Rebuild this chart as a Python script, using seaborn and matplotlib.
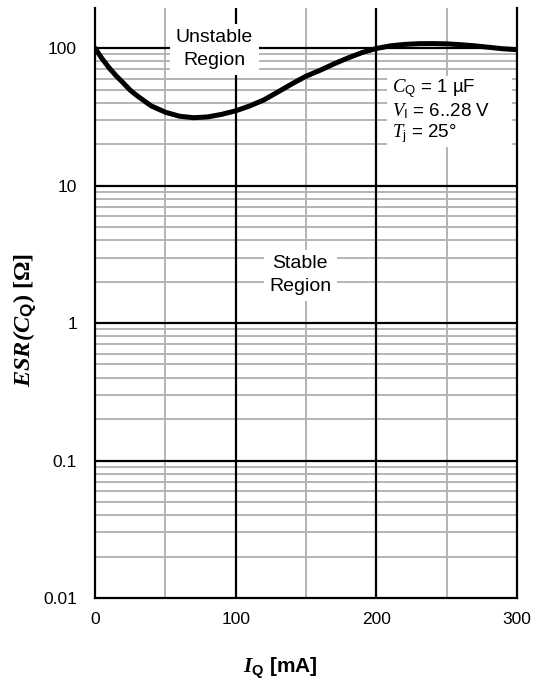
import matplotlib
matplotlib.use("Agg")
import matplotlib.pyplot as plt
import seaborn as sns
import numpy as np
import pandas as pd
from matplotlib.ticker import FixedLocator, NullFormatter
from matplotlib.patches import Rectangle

# ---- data ----
current_ma = [0, 5, 10, 15, 20, 25, 30, 40, 50, 60, 70, 80, 90, 100, 110, 120, 130,
              140, 150, 160, 170, 180, 190, 200, 210, 220, 230, 240, 250, 260,
              270, 280, 290, 300]
esr_ohm = [100, 84, 72, 63, 56, 49.5, 45, 38, 34.2, 32, 31.2, 31.6, 33, 35, 38, 42, 48,
           55, 62.5, 69, 77, 85, 93, 99.5, 104, 106.5, 107.8, 108, 107.5, 106,
           104, 101.5, 99, 97.5]
x_ticks = [0, 100, 200, 300]
x_minor = [50, 150, 250]
y_ticks = [0.01, 0.1, 1, 10, 100]
y_tick_labels = ["0.01", "0.1", "1", "10", "100"]

sns.set_style("white")
plt.rcParams['font.family'] = ['Liberation Sans', 'DejaVu Sans']
for k in ['text.color', 'axes.labelcolor', 'xtick.color', 'ytick.color']:
    plt.rcParams[k] = 'black'
plt.rcParams['mathtext.fontset'] = 'custom'
plt.rcParams['mathtext.rm'] = 'Liberation Sans'
plt.rcParams['mathtext.it'] = 'Liberation Serif:italic'
plt.rcParams['mathtext.bf'] = 'Liberation Serif:bold'
plt.rcParams['mathtext.bfit'] = 'Liberation Serif:bold:italic'
plt.rcParams['mathtext.sf'] = 'Liberation Sans:bold'

fig = plt.figure(figsize=(5.42, 6.82), dpi=100)
ax = fig.add_axes([95/542, 1-598/682, (517-95)/542, (598-8)/682])

df = pd.DataFrame({"I": current_ma, "ESR": esr_ohm})

ax.set_yscale("log")
ax.set_xlim(0, 300)
ax.set_ylim(0.01, 196)

# grid
minor_y = []
for d in [0.01, 0.1, 1, 10, 100]:
    for m in range(2, 10):
        v = d * m
        if v < 196:
            minor_y.append(v)
for v in minor_y:
    ax.axhline(v, color="#b4b4b4", lw=1.4, zorder=1)
for v in x_minor:
    ax.axvline(v, color="#b4b4b4", lw=1.4, zorder=1)
for v in y_ticks[1:]:
    ax.axhline(v, color="black", lw=1.6, zorder=2)
for v in x_ticks[1:3]:
    ax.axvline(v, color="black", lw=1.6, zorder=2)

sns.lineplot(data=df, x="I", y="ESR", ax=ax, color="black", lw=3.6, zorder=5)

ax.xaxis.set_major_locator(FixedLocator(x_ticks))
ax.set_xticklabels([str(t) for t in x_ticks], fontsize=12.5)
ax.yaxis.set_major_locator(FixedLocator(y_ticks))
ax.yaxis.set_minor_locator(FixedLocator(minor_y))
ax.yaxis.set_minor_formatter(NullFormatter())
ax.set_yticklabels(y_tick_labels, fontsize=12.5)
ax.tick_params(axis="x", which="major", direction="out", length=4, width=1.6,
               color="black", pad=6)
ax.tick_params(axis="y", which="major", direction="out", length=4, width=1.6,
               color="black", pad=9)
ax.tick_params(axis="y", which="minor", direction="out", length=2, width=1.2,
               color="#b4b4b4")

for s in ["left", "right", "bottom"]:
    ax.spines[s].set_color("black")
    ax.spines[s].set_linewidth(1.6)
    ax.spines[s].set_zorder(6)
ax.spines["top"].set_visible(False)

ax.set_xlabel(r"$\mathbfit{I}_{\mathsf{Q}}$ [mA]", fontsize=15, fontweight="bold")
ax.xaxis.set_label_coords((280-95)/422, -(656-598)/590)
ax.set_ylabel(r"$\mathbfit{ESR(C}_{\mathsf{Q}}\mathbf{)\ [\Omega]}$",
              fontsize=17.5, fontweight="bold")
ax.yaxis.set_label_coords((38-95)/422, 1-(320-8)/590)

box = dict(facecolor="white", edgecolor="none", pad=4)
ax.text(85, 10**(2 - (49-48)/137.5), "Unstable\nRegion", ha="center", va="center",
        fontsize=14, bbox=box, zorder=4, linespacing=1.45)
ax.text(146, 10**(2 - (275-48)/137.5), "Stable\nRegion", ha="center", va="center",
        fontsize=14, bbox=box, zorder=4, linespacing=1.45)

# white panel behind the conditions text
ax.add_patch(Rectangle(((387-95)/422, 1-(147-8)/590), (512-387)/422, (147-76)/590,
                       transform=ax.transAxes, facecolor="white", edgecolor="none",
                       zorder=3.5))
ax.text((392-95)/422, 1-(111-8)/590,
        "$\\mathit{C}_{\\mathrm{Q}}$ = 1 µF\n$\\mathit{V}_{\\mathrm{I}}$ = 6..28 V\n$\\mathit{T}_{\\mathrm{j}}$ = 25°",
        ha="left", va="center", fontsize=13.5, transform=ax.transAxes,
        zorder=4, linespacing=1.05)

fig.savefig("out.png", dpi=100)
